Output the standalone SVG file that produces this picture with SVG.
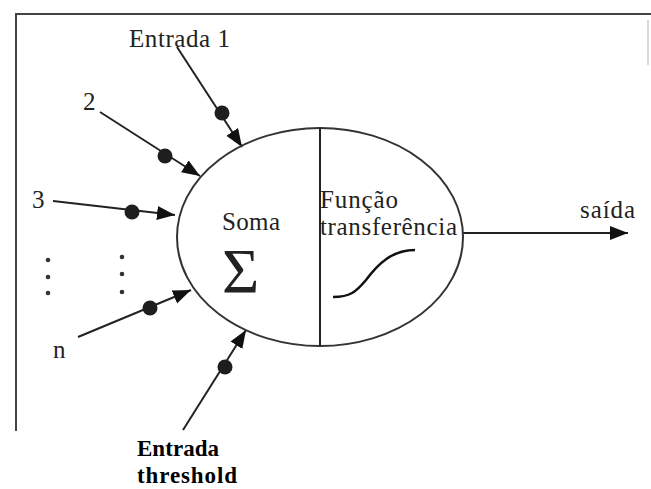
<svg xmlns="http://www.w3.org/2000/svg" width="651" height="489" viewBox="0 0 651 489">
<style>
.t{font-family:"Liberation Serif","Times New Roman",serif;fill:#222;font-size:25px}
.b{font-family:"Liberation Serif","Times New Roman",serif;fill:#000;font-size:23px;font-weight:bold}
.ln{stroke:#222;stroke-width:2;fill:none}
.dot{fill:#1e1e1e}
.sd{fill:#333}
</style>
<defs>
<marker id="ah" markerUnits="userSpaceOnUse" markerWidth="20" markerHeight="16" refX="18" refY="7" orient="auto">
<path d="M0,0 L18,7 L0,14 Z" fill="#111"/>
</marker>
</defs>
<g id="frame" stroke="#444" stroke-width="2" fill="none">
<path d="M16,431 L16,14 L651,14"/>
<path d="M648,20 L648,65" stroke="#ccc" stroke-width="1.5"/>
</g>
<g id="connectors">
<path class="ln" d="M177,47 L242,147" marker-end="url(#ah)"/>
<circle class="dot" cx="222" cy="113" r="7.5"/>
<path class="ln" d="M100,112 L200,176" marker-end="url(#ah)"/>
<circle class="dot" cx="165" cy="156" r="7.5"/>
<path class="ln" d="M53,201 L175,215" marker-end="url(#ah)"/>
<circle class="dot" cx="132" cy="212" r="7.5"/>
<path class="ln" d="M78,337 L191,290" marker-end="url(#ah)"/>
<circle class="dot" cx="150" cy="308" r="7.5"/>
<path class="ln" d="M183,430 L246,330" marker-end="url(#ah)"/>
<circle class="dot" cx="225" cy="367" r="7.5"/>
<path class="ln" d="M463,233 L628,233" marker-end="url(#ah)"/>
</g>
<g id="neuron">
<ellipse cx="320" cy="237" rx="143" ry="109" fill="none" stroke="#333" stroke-width="2"/>
<line x1="320" y1="128" x2="320" y2="346" stroke="#222" stroke-width="2"/>
<text class="t" x="222" y="230" textLength="58">Soma</text>
<text class="t" x="222" y="293" style="font-size:64px" textLength="36">Σ</text>
<text class="t" x="320" y="208" textLength="78">Função</text>
<text class="t" x="320" y="235" textLength="137">transferência</text>
<path d="M333,297 C350,297 356,292 366,280 C378,264 392,250 415,250" fill="none" stroke="#111" stroke-width="2.5"/>
</g>
<g id="input-1"><text class="t" x="129" y="47" textLength="101">Entrada 1</text></g>
<g id="input-2"><text class="t" x="83" y="110">2</text></g>
<g id="input-3"><text class="t" x="32" y="208">3</text></g>
<g id="ellipsis">
<circle class="sd" cx="48" cy="260" r="2.3"/>
<circle class="sd" cx="48" cy="277" r="2.3"/>
<circle class="sd" cx="48" cy="293" r="2.3"/>
<circle class="sd" cx="122" cy="257" r="2.3"/>
<circle class="sd" cx="122" cy="274" r="2.3"/>
<circle class="sd" cx="122" cy="292" r="2.3"/>
</g>
<g id="input-n"><text class="t" x="53" y="358">n</text></g>
<g id="threshold">
<text class="b" x="137" y="456" textLength="82">Entrada</text>
<text class="b" x="137" y="483" textLength="100">threshold</text>
</g>
<g id="output"><text class="t" x="580" y="218" textLength="55">saída</text></g>
</svg>
